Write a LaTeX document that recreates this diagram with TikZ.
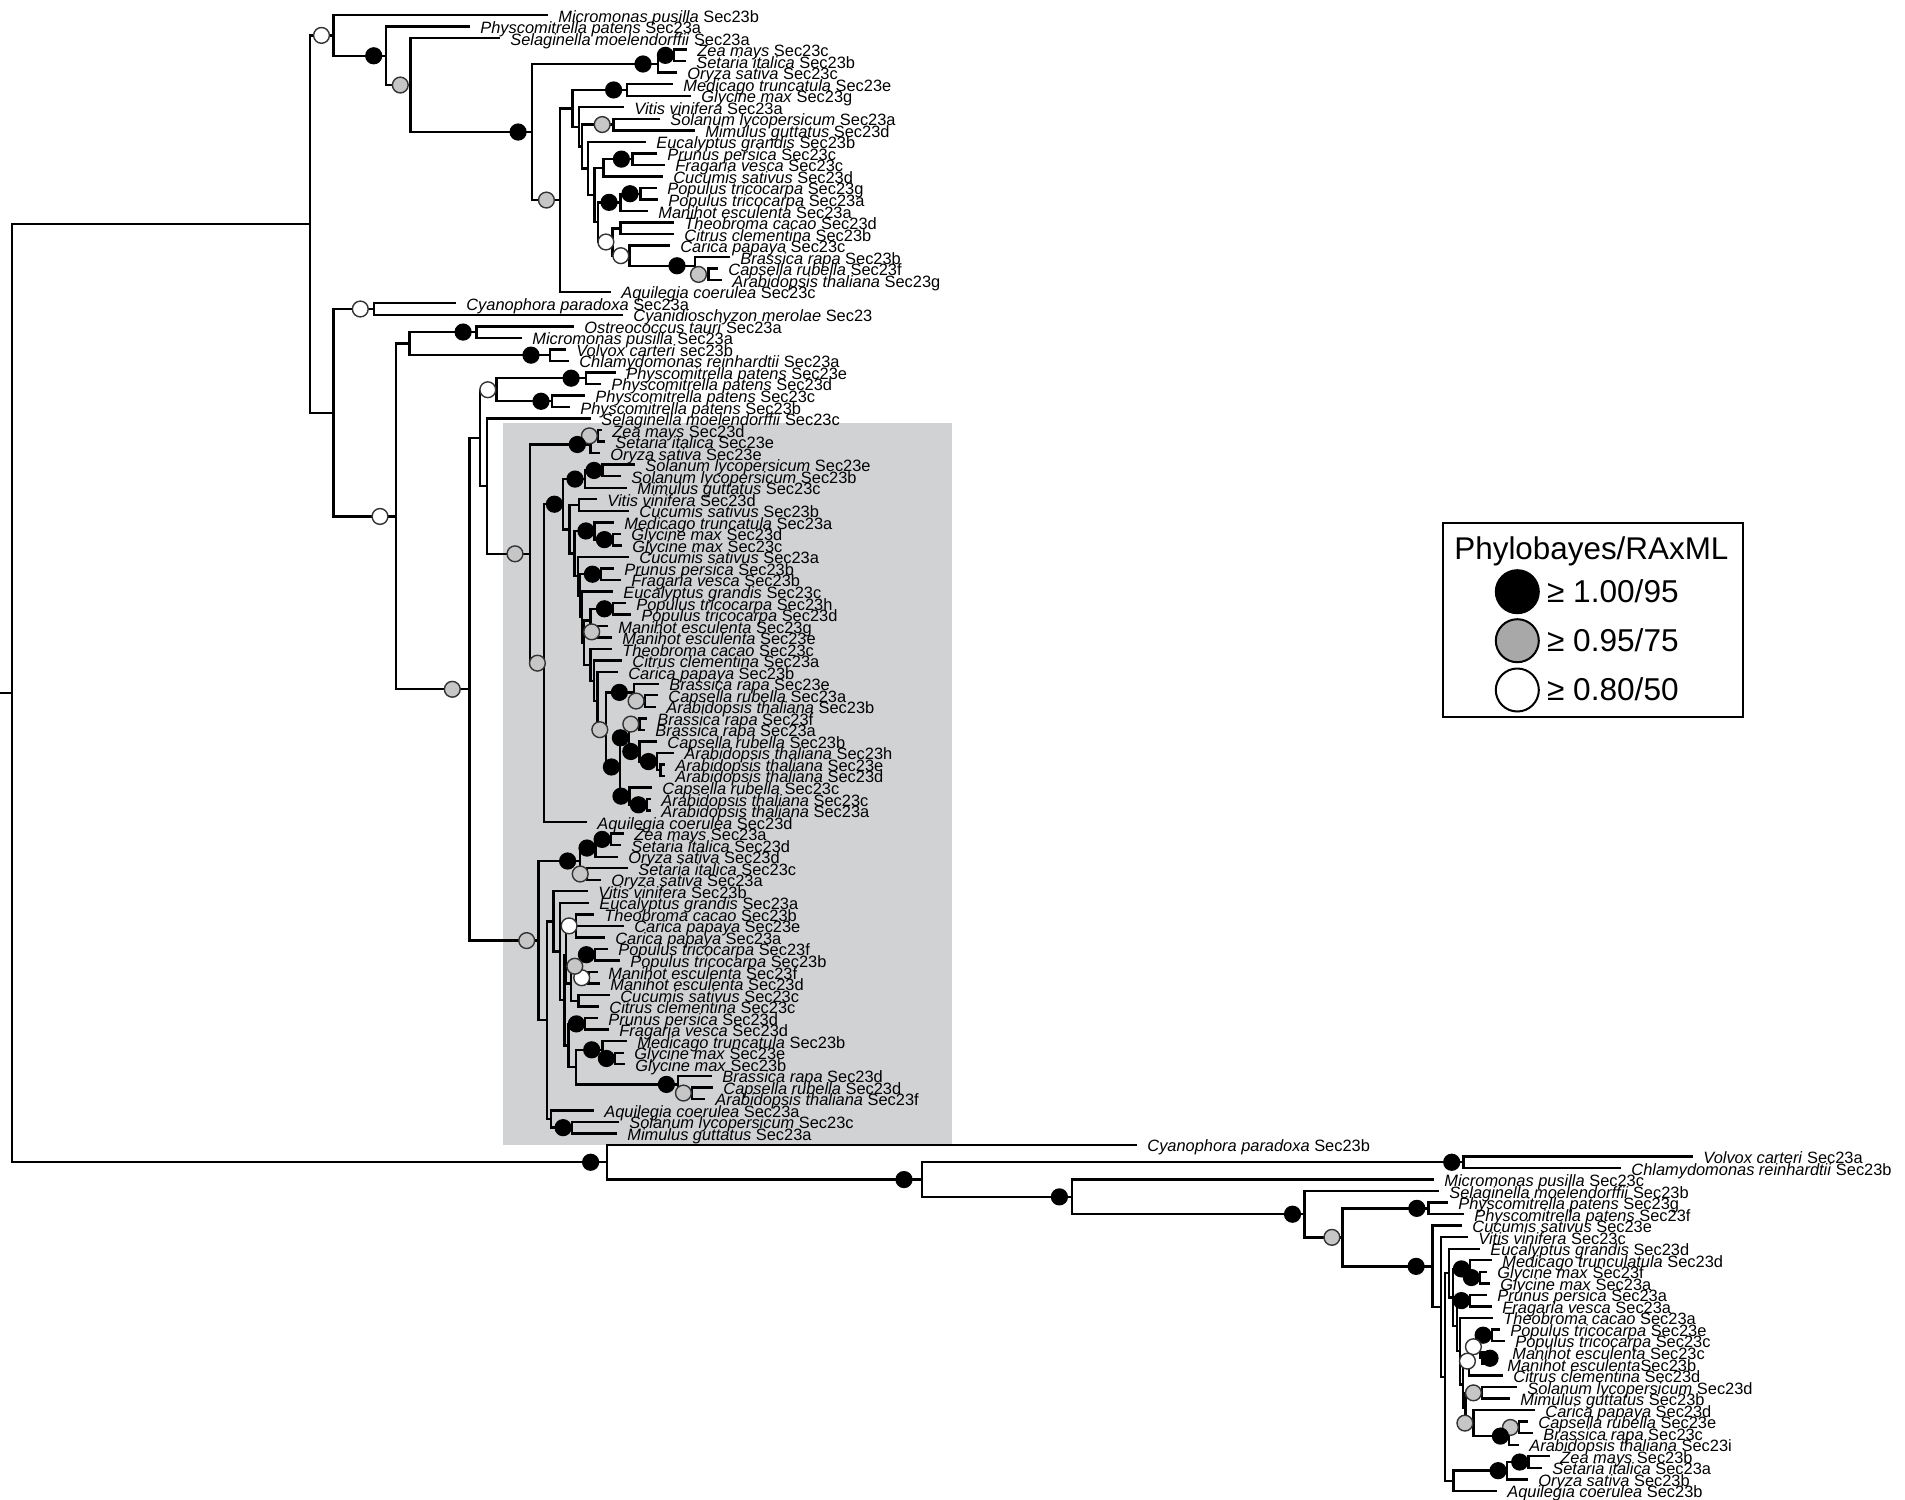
\documentclass[tikz,border=0pt]{standalone}
\usepackage{fontspec}
\setmainfont{Liberation Sans}
\usetikzlibrary{calc}
\pgfdeclarelayer{fg}
\pgfsetlayers{main,fg}
\definecolor{boxbg}{HTML}{D1D2D4}
\definecolor{cgrey}{HTML}{C6C6C6}
\definecolor{lgrey}{HTML}{A8A8A8}
\definecolor{cedge}{HTML}{333333}
% leaf: [gap]{name}{index}{text x}{species}{suffix}
\newcommand\TLeaf[6][11]{%
  \coordinate (#2) at ({#4-#1},{15+11.53*#3});
  \node[lab] (t#2) at (#4,{22+11.53*#3}) {\textit{#5} #6};}
% internal node: [circle style]{name}{x}{child1}{child2}
\newcommand\TNode[5][]{%
  \coordinate (#2m) at ($(#4)!0.5!(#5)$);
  \coordinate (#2) at (#3,0 |- #2m);
  \draw[br] (#2 |- #4) -- (#2 |- #5);
  \draw[br] (#2 |- #4) -- (#4);
  \draw[br] (#2 |- #5) -- (#5);
  \ifx\relax#1\relax\else
    \begin{pgfonlayer}{fg}\node[anchor=east,#1] (c#2) at (#2) {};\end{pgfonlayer}%
  \fi}
\begin{document}
\begin{tikzpicture}[x=0.5pt,y=-0.5pt,
  br/.style={line width=1.2pt,line cap=rect,black},
  lab/.style={anchor=base west,inner sep=0pt,font=\fontsize{8.2}{9}\selectfont},
  cb/.style={circle,inner sep=0pt,minimum size=7.9pt,line width=0.7pt,draw=cedge},
  blk/.style={cb,fill=black,draw=black},
  gry/.style={cb,fill=cgrey},
  wht/.style={cb,fill=white},
  lcir/.style={circle,inner sep=0pt,minimum size=21.5pt,line width=1pt,draw=black},
  legf/.style={anchor=base west,inner sep=0pt,font=\fontsize{15.8}{18}\selectfont}]
\useasboundingbox (0,0) rectangle (1905,1499);
\fill[boxbg] (503,423) rectangle (952,1145);

% ---------------- leaves ----------------
\TLeaf{L0}{0}{558}{Micromonas pusilla}{Sec23b}
\TLeaf{L1}{1}{480}{Physcomitrella patens}{Sec23a}
\TLeaf{L2}{2}{510}{Selaginella moelendorffii}{Sec23a}
\TLeaf{L3}{3}{697}{Zea mays}{Sec23c}
\TLeaf{L4}{4}{696}{Setaria italica}{Sec23b}
\TLeaf{L5}{5}{687}{Oryza sativa}{Sec23c}
\TLeaf{L6}{6}{683}{Medicago truncatula}{Sec23e}
\TLeaf{L7}{7}{701}{Glycine max}{Sec23g}
\TLeaf{L8}{8}{634}{Vitis vinifera}{Sec23a}
\TLeaf{L9}{9}{670}{Solanum lycopersicum}{Sec23a}
\TLeaf{L10}{10}{705}{Mimulus guttatus}{Sec23d}
\TLeaf{L11}{11}{656}{Eucalyptus grandis}{Sec23b}
\TLeaf{L12}{12}{667}{Prunus persica}{Sec23c}
\TLeaf{L13}{13}{675}{Fragaria vesca}{Sec23c}
\TLeaf{L14}{14}{673}{Cucumis sativus}{Sec23d}
\TLeaf{L15}{15}{667}{Populus tricocarpa}{Sec23g}
\TLeaf{L16}{16}{668}{Populus tricocarpa}{Sec23a}
\TLeaf{L17}{17}{658}{Manihot esculenta}{Sec23a}
\TLeaf{L18}{18}{684}{Theobroma cacao}{Sec23d}
\TLeaf{L19}{19}{684}{Citrus clementina}{Sec23b}
\TLeaf{L20}{20}{680}{Carica papaya}{Sec23c}
\TLeaf{L21}{21}{740}{Brassica rapa}{Sec23b}
\TLeaf{L22}{22}{728}{Capsella rubella}{Sec23f}
\TLeaf{L23}{23}{732}{Arabidopsis thaliana}{Sec23g}
\TLeaf{L24}{24}{621}{Aquilegia coerulea}{Sec23c}
\TLeaf{L25}{25}{466}{Cyanophora paradoxa}{Sec23a}
\TLeaf{L26}{26}{633}{Cyanidioschyzon merolae}{Sec23}
\TLeaf{L27}{27}{584}{Ostreococcus tauri}{Sec23a}
\TLeaf{L28}{28}{532}{Micromonas pusilla}{Sec23a}
\TLeaf{L29}{29}{576}{Volvox carteri}{sec23b}
\TLeaf{L30}{30}{579}{Chlamydomonas reinhardtii}{Sec23a}
\TLeaf{L31}{31}{626}{Physcomitrella patens}{Sec23e}
\TLeaf{L32}{32}{611}{Physcomitrella patens}{Sec23d}
\TLeaf{L33}{33}{595}{Physcomitrella patens}{Sec23c}
\TLeaf{L34}{34}{580}{Physcomitrella patens}{Sec23b}
\TLeaf{L35}{35}{601}{Selaginella moelendorffii}{Sec23c}
\TLeaf{L36}{36}{612}{Zea mays}{Sec23d}
\TLeaf{L37}{37}{615}{Setaria italica}{Sec23e}
\TLeaf{L38}{38}{610}{Oryza sativa}{Sec23e}
\TLeaf{L39}{39}{645}{Solanum lycopersicum}{Sec23e}
\TLeaf{L40}{40}{631}{Solanum lycopersicum}{Sec23b}
\TLeaf{L41}{41}{637}{Mimulus guttatus}{Sec23c}
\TLeaf{L42}{42}{607}{Vitis vinifera}{Sec23d}
\TLeaf{L43}{43}{639}{Cucumis sativus}{Sec23b}
\TLeaf{L44}{44}{624}{Medicago truncatula}{Sec23a}
\TLeaf{L45}{45}{631}{Glycine max}{Sec23d}
\TLeaf{L46}{46}{632}{Glycine max}{Sec23c}
\TLeaf{L47}{47}{639}{Cucumis sativus}{Sec23a}
\TLeaf{L48}{48}{624}{Prunus persica}{Sec23b}
\TLeaf{L49}{49}{631}{Fragaria vesca}{Sec23b}
\TLeaf{L50}{50}{623}{Eucalyptus grandis}{Sec23c}
\TLeaf{L51}{51}{636}{Populus tricocarpa}{Sec23h}
\TLeaf{L52}{52}{641}{Populus tricocarpa}{Sec23d}
\TLeaf{L53}{53}{618}{Manihot esculenta}{Sec23g}
\TLeaf{L54}{54}{622}{Manihot esculenta}{Sec23e}
\TLeaf{L55}{55}{622}{Theobroma cacao}{Sec23c}
\TLeaf{L56}{56}{632}{Citrus clementina}{Sec23a}
\TLeaf{L57}{57}{628}{Carica papaya}{Sec23b}
\TLeaf{L58}{58}{669}{Brassica rapa}{Sec23e}
\TLeaf{L59}{59}{668}{Capsella rubella}{Sec23a}
\TLeaf{L60}{60}{666}{Arabidopsis thaliana}{Sec23b}
\TLeaf{L61}{61}{657}{Brassica rapa}{Sec23f}
\TLeaf{L62}{62}{655}{Brassica rapa}{Sec23a}
\TLeaf{L63}{63}{667}{Capsella rubella}{Sec23b}
\TLeaf{L64}{64}{684}{Arabidopsis thaliana}{Sec23h}
\TLeaf{L65}{65}{675}{Arabidopsis thaliana}{Sec23e}
\TLeaf{L66}{66}{675}{Arabidopsis thaliana}{Sec23d}
\TLeaf{L67}{67}{662}{Capsella rubella}{Sec23c}
\TLeaf{L68}{68}{661}{Arabidopsis thaliana}{Sec23c}
\TLeaf{L69}{69}{661}{Arabidopsis thaliana}{Sec23a}
\TLeaf{L70}{70}{597}{Aquilegia coerulea}{Sec23d}
\TLeaf{L71}{71}{634}{Zea mays}{Sec23a}
\TLeaf{L72}{72}{631}{Setaria italica}{Sec23d}
\TLeaf{L73}{73}{628}{Oryza sativa}{Sec23d}
\TLeaf{L74}{74}{638}{Setaria italica}{Sec23c}
\TLeaf{L75}{75}{611}{Oryza sativa}{Sec23a}
\TLeaf{L76}{76}{598}{Vitis vinifera}{Sec23b}
\TLeaf{L77}{77}{599}{Eucalyptus grandis}{Sec23a}
\TLeaf{L78}{78}{604}{Theobroma cacao}{Sec23b}
\TLeaf{L79}{79}{634}{Carica papaya}{Sec23e}
\TLeaf{L80}{80}{615}{Carica papaya}{Sec23a}
\TLeaf{L81}{81}{618}{Populus tricocarpa}{Sec23f}
\TLeaf{L82}{82}{630}{Populus tricocarpa}{Sec23b}
\TLeaf{L83}{83}{608}{Manihot esculenta}{Sec23f}
\TLeaf{L84}{84}{610}{Manihot esculenta}{Sec23d}
\TLeaf{L85}{85}{620}{Cucumis sativus}{Sec23c}
\TLeaf{L86}{86}{609}{Citrus clementina}{Sec23c}
\TLeaf{L87}{87}{608}{Prunus persica}{Sec23d}
\TLeaf{L88}{88}{619}{Fragaria vesca}{Sec23d}
\TLeaf{L89}{89}{637}{Medicago truncatula}{Sec23b}
\TLeaf{L90}{90}{634}{Glycine max}{Sec23e}
\TLeaf{L91}{91}{635}{Glycine max}{Sec23b}
\TLeaf{L92}{92}{722}{Brassica rapa}{Sec23d}
\TLeaf{L93}{93}{723}{Capsella rubella}{Sec23d}
\TLeaf{L94}{94}{715}{Arabidopsis thaliana}{Sec23f}
\TLeaf{L95}{95}{604}{Aquilegia coerulea}{Sec23a}
\TLeaf{L96}{96}{629}{Solanum lycopersicum}{Sec23c}
\TLeaf{L97}{97}{627}{Mimulus guttatus}{Sec23a}
\TLeaf{L98}{98}{1147}{Cyanophora paradoxa}{Sec23b}
\TLeaf{L99}{99}{1703}{Volvox carteri}{Sec23a}
\TLeaf{L100}{100}{1631}{Chlamydomonas reinhardtii}{Sec23b}
\TLeaf{L101}{101}{1444}{Micromonas pusilla}{Sec23c}
\TLeaf{L102}{102}{1449}{Selaginella moelendorffii}{Sec23b}
\TLeaf{L103}{103}{1458}{Physcomitrella patens}{Sec23g}
\TLeaf{L104}{104}{1474}{Physcomitrella patens}{Sec23f}
\TLeaf{L105}{105}{1472}{Cucumis sativus}{Sec23e}
\TLeaf{L106}{106}{1478}{Vitis vinifera}{Sec23c}
\TLeaf{L107}{107}{1490}{Eucalyptus grandis}{Sec23d}
\TLeaf{L108}{108}{1502}{Medicago trunculatula}{Sec23d}
\TLeaf{L109}{109}{1497}{Glycine max}{Sec23f}
\TLeaf{L110}{110}{1500}{Glycine max}{Sec23a}
\TLeaf{L111}{111}{1497}{Prunus persica}{Sec23a}
\TLeaf{L112}{112}{1502}{Fragaria vesca}{Sec23a}
\TLeaf{L113}{113}{1503}{Theobroma cacao}{Sec23a}
\TLeaf{L114}{114}{1510}{Populus tricocarpa}{Sec23e}
\TLeaf{L115}{115}{1515}{Populus tricocarpa}{Sec23c}
\TLeaf[27]{L116}{116}{1512}{Manihot esculenta}{Sec23c}
\TLeaf[22]{L117}{117}{1507}{Manihot esculenta}{\unskip Sec23b}
\TLeaf{L118}{118}{1513}{Citrus clementina}{Sec23d}
\TLeaf{L119}{119}{1527}{Solanum lycopersicum}{Sec23d}
\TLeaf{L120}{120}{1520}{Mimulus guttatus}{Sec23b}
\TLeaf{L121}{121}{1545}{Carica papaya}{Sec23d}
\TLeaf{L122}{122}{1538}{Capsella rubella}{Sec23e}
\TLeaf{L123}{123}{1543}{Brassica rapa}{Sec23c}
\TLeaf{L124}{124}{1529}{Arabidopsis thaliana}{Sec23i}
\TLeaf{L125}{125}{1560}{Zea mays}{Sec23b}
\TLeaf{L126}{126}{1552}{Setaria italica}{Sec23a}
\TLeaf{L127}{127}{1538}{Oryza sativa}{Sec23b}
\TLeaf{L128}{128}{1507}{Aquilegia coerulea}{Sec23b}

% ---------------- top clade ----------------
\TNode[blk]{C1a}{674}{L3}{L4}
\TNode[blk,xshift=-3.2pt]{C1}{658}{C1a}{L5}
\TNode[blk,xshift=-2.4pt]{D1}{627}{L6}{L7}
\TNode[gry,xshift=-1.3pt]{D2}{613.4}{L9}{L10}
\TNode[blk,xshift=-1.3pt]{PF}{632.6}{L12}{L13}
\TNode{E1}{603.6}{PF}{L14}
\TNode[blk,xshift=-1pt]{Pop}{640.6}{L15}{L16}
\TNode[blk,xshift=-1.4pt]{PopMan}{620.5}{Pop}{L17}
\TNode{TC}{620.5}{L18}{L19}
\TNode[gry,xshift=-0.7pt]{CA}{708.5}{L22}{L23}
\TNode[blk,xshift=-4.7pt]{Bra}{695}{L21}{CA}
\TNode[wht]{CB}{629.4}{L20}{Bra}
\TNode[wht,xshift=1pt]{W1}{612.5}{TC}{CB}
\TNode{P}{598.2}{PopMan}{W1}
\TNode{Q}{594.6}{E1}{P}
\TNode{R}{588}{L11}{Q}
\TNode{C5}{582.1}{D2}{R}
\TNode{C4}{579}{L8}{C5}
\TNode{C3}{572.3}{D1}{C4}
\TNode[gry,xshift=-2.5pt]{C2}{560}{C3}{L24}
\TNode[blk,xshift=-2.7pt]{B3}{532.1}{C1}{C2}
\TNode[gry,xshift=-0.7pt]{B2}{410.3}{L2}{B3}
\TNode[blk,xshift=-1.7pt]{B1}{385.7}{L1}{B2}
\TNode[wht,xshift=-1.7pt]{A}{333.5}{L0}{B1}

% ---------------- algae / first land clade ----------------
\TNode[wht,xshift=-2.4pt]{Cy}{373.7}{L25}{L26}
\TNode[blk,xshift=-2.3pt]{OM}{476.3}{L27}{L28}
\TNode[blk,xshift=-5.2pt]{VC}{550}{L29}{L30}
\TNode{G}{409.4}{OM}{VC}
\TNode[blk,xshift=-3pt]{Ph1}{585.7}{L31}{L32}
\TNode[blk,xshift=-1.2pt]{Ph2}{552}{L33}{L34}
\TNode[wht]{Ph}{496.4}{Ph1}{Ph2}

\TNode[gry]{ZS}{598}{L36}{L37}
\TNode[blk,xshift=-2.2pt]{Mon}{590.3}{ZS}{L38}
\TNode[blk]{SS}{602.6}{L39}{L40}
\TNode[blk,xshift=-0.7pt]{AS}{585}{SS}{L41}
\TNode{VCn}{579}{L42}{L43}
\TNode[blk]{GG}{613}{L45}{L46}
\TNode[blk]{MG}{594.5}{L44}{GG}
\TNode[blk]{PF1}{601}{L48}{L49}
\TNode[blk]{PP}{613}{L51}{L52}
\TNode[gry,xshift=1.5pt]{MeGE}{597.3}{L53}{L54}
\TNode{PPM}{590.3}{PP}{MeGE}
\TNode[gry]{CA1}{644.7}{L59}{L60}
\TNode[blk,xshift=-3pt]{BR1}{634}{L58}{CA1}
\TNode[gry]{BRfa}{639.4}{L61}{L62}
\TNode{AT2}{660.5}{L65}{L66}
\TNode[blk]{AT1}{657}{L64}{AT2}
\TNode[blk]{BR5}{639.4}{L63}{AT1}
\TNode[blk]{BR3}{629}{BRfa}{BR5}
\TNode[blk]{AT3}{647}{L68}{L69}
\TNode[blk]{BR4}{629.6}{L67}{AT3}
\TNode[blk]{BR2}{620}{BR3}{BR4}
\TNode[gry,xshift=1.2pt]{BR}{606}{BR1}{BR2}
\TNode{Z3}{597.5}{L57}{BR}
\TNode{Z2}{594}{L56}{Z3}
\TNode{Z1}{590.3}{L55}{Z2}
\TNode{Y4}{584}{PPM}{Z1}
\TNode{Y3}{582}{L50}{Y4}
\TNode{Y2}{580}{PF1}{Y3}
\TNode{Y}{578}{L47}{Y2}
\TNode{X}{574.5}{MG}{Y}
\TNode{RS}{569.3}{VCn}{X}
\TNode[blk]{EU2}{563}{AS}{RS}
\TNode[gry,xshift=1pt]{EU1}{544}{EU2}{L70}
\TNode[gry,xshift=-3.2pt]{GB1}{530}{Mon}{EU1}
\TNode{S2}{486.7}{L35}{GB1}
\TNode{S1}{480}{Ph}{S2}

% ---------------- second shaded clade ----------------
\TNode[blk]{ZS2}{610.7}{L71}{L72}
\TNode[blk]{MS}{595.6}{ZS2}{L73}
\TNode[gry,xshift=1pt]{SO}{586.8}{L74}{L75}
\TNode[blk,xshift=-1.8pt]{Mon2}{579.8}{MS}{SO}
\TNode[wht,xshift=1pt]{TC2}{575.7}{L78}{L80}
\draw[br] (TC2 |- L79) -- (L79);
\TNode[blk]{PopFB}{595}{L81}{L82}
\TNode[wht,xshift=1pt]{MfD}{588.3}{L83}{L84}
\TNode[gry,xshift=1.7pt]{PM2}{580}{PopFB}{MfD}
\TNode{CC}{578.3}{L85}{L86}
\TNode{J}{571}{PM2}{CC}
\TNode{U}{566}{TC2}{J}
\TNode[blk]{PF2}{585}{L87}{L88}
\TNode[blk]{GG2}{615}{L90}{L91}
\TNode[blk,xshift=-1pt]{MG2}{602.3}{L89}{GG2}
\TNode[gry]{CA2}{692}{L93}{L94}
\TNode[blk,xshift=-1.5pt]{BR6}{678}{L92}{CA2}
\TNode{K1}{575.7}{MG2}{BR6}
\TNode{K2}{568.3}{PF2}{K1}
\TNode{EU6}{564.3}{U}{K2}
\TNode{EU5}{560}{L77}{EU6}
\TNode{EU4}{553.3}{L76}{EU5}
\TNode[blk]{SM}{571.7}{L96}{L97}
\TNode{AQ}{551}{L95}{SM}
\TNode{EU3}{546.7}{EU4}{AQ}
\TNode[gry,xshift=-1.5pt]{GB2}{538.3}{Mon2}{EU3}

\TNode[gry,xshift=-4.2pt]{N4}{469.3}{S1}{GB2}
\TNode[wht,xshift=-3.7pt]{N3}{396}{G}{N4}
\TNode{N2}{333.5}{Cy}{N3}
\TNode{N1}{309.8}{A}{N2}

% ---------------- bottom clade ----------------
\TNode[blk,xshift=-1.6pt]{VC2}{1463.5}{L99}{L100}
\TNode[blk,xshift=-1.6pt]{Ph3}{1428.6}{L103}{L104}
\TNode[blk]{GG3}{1480}{L109}{L110}
\TNode[blk]{MG3}{1470}{L108}{GG3}
\TNode[blk]{PF3}{1470}{L111}{L112}
\TNode[blk]{PM3}{1491.7}{L114}{L115}
\TNode{MM3}{1482}{L116}{L117}
\begin{pgfonlayer}{fg}\node[blk] (cMM3) at ($(MM3)+(8,0)$) {};\end{pgfonlayer}
\TNode[wht,xshift=1pt]{PMM3}{1480}{PM3}{MM3}
\TNode[wht,xshift=3.5pt]{PMC}{1469}{PMM3}{L118}
\TNode[gry]{SM3}{1482}{L119}{L120}
\TNode[gry]{CB3}{1519}{L122}{L123}
\TNode[blk]{BR7}{1509}{CB3}{L124}
\TNode[gry]{BA3}{1473.5}{L121}{BR7}
\TNode{E6}{1465.5}{SM3}{BA3}
\TNode{E5}{1463}{PMC}{E6}
\TNode{E4}{1460}{L113}{E5}
\TNode{E3}{1457}{PF3}{E4}
\TNode{E2}{1453}{MG3}{E3}
\TNode{E1b}{1449}{L107}{E2}
\TNode[blk]{ZS3}{1528.3}{L125}{L126}
\TNode[blk]{Mon3}{1506.7}{ZS3}{L127}
\TNode{AQ3}{1453.3}{Mon3}{L128}
\TNode{B8b}{1445}{E1b}{AQ3}
\TNode{B7b}{1440.7}{L106}{B8b}
\TNode[blk,xshift=-3.8pt]{B6b}{1432.3}{L105}{B7b}
\TNode[gry,xshift=-0.9pt]{B5b}{1342.3}{Ph3}{B6b}
\TNode[blk,xshift=-1.6pt]{B4b}{1304.3}{L102}{B5b}
\TNode[blk,xshift=-2pt]{B3b}{1072}{L101}{B4b}
\TNode[blk,xshift=-4.7pt]{B2b}{922}{VC2}{B3b}
\TNode[blk,xshift=-3.9pt]{BB}{607}{L98}{B2b}

% ---------------- root ----------------
\TNode{Root}{12}{N1}{BB}
\coordinate (r0) at (0,0 |- Root);
\draw[br] (r0) -- (Root);

% ---------------- legend ----------------
\node[draw,line width=1pt,minimum width=150pt,minimum height=97pt,inner sep=0pt] (legend) at (1593.3,619.7) {};
\node[anchor=base west,inner sep=0pt,font=\fontsize{15.7}{18}\selectfont] (legt) at (1454,559.8) {Phylobayes/RAxML};
\node[lcir,fill=black] (lc1) at (1517.3,591.7) {};
\node[lcir,fill=lgrey] (lc2) at (1517.3,640.7) {};
\node[lcir,fill=white] (lc3) at (1517.3,690) {};
\node[legf] (ll1) at (1546.7,602) {≥ 1.00/95};
\node[legf] (ll2) at (1546.7,651) {≥ 0.95/75};
\node[legf] (ll3) at (1546.7,700) {≥ 0.80/50};
\end{tikzpicture}
\end{document}
